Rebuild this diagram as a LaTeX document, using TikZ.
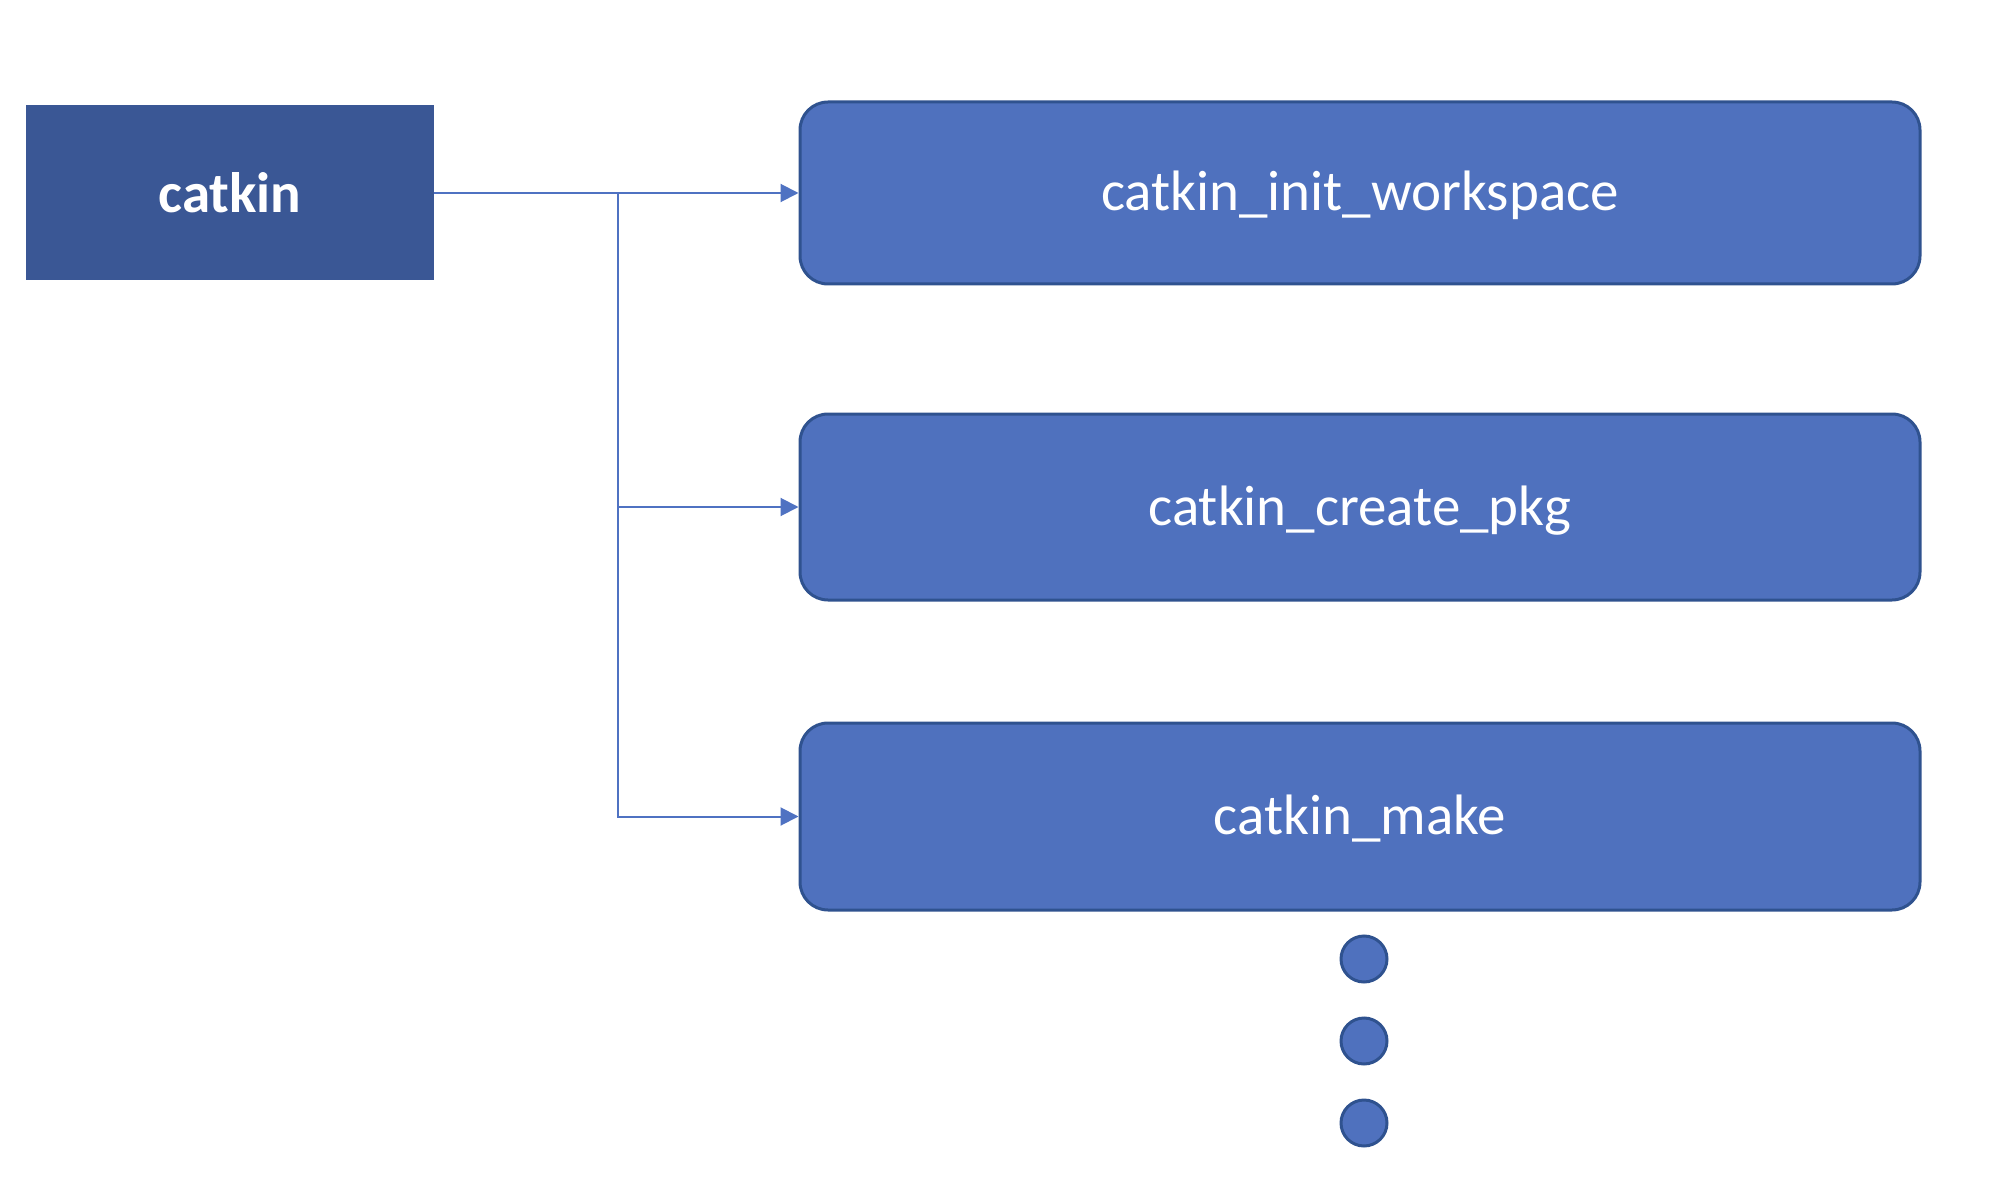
\documentclass[tikz,border=0pt]{standalone}
\usepackage{fontspec}
\setmainfont{Carlito}
\usetikzlibrary{arrows.meta}
\definecolor{boxfill}{HTML}{4F71BE}
\definecolor{boxline}{HTML}{2F528F}
\definecolor{darkfill}{HTML}{3A5795}
\definecolor{linkcol}{HTML}{4F72C2}
\begin{document}
\begin{tikzpicture}[x=1pt,y=-1pt,
  rootbox/.style={fill=darkfill,draw=none,minimum width=408pt,minimum height=175pt,inner sep=0pt,
    text=white,font=\fontsize{57}{68}\selectfont\bfseries},
  cmdbox/.style={fill=boxfill,draw=boxline,line width=3pt,rounded corners=28pt,minimum width=1120pt,
    minimum height=182pt,inner sep=0pt,text=white,text height=48pt,text depth=12pt,
    font=\fontsize{57}{68}\selectfont},
  dotc/.style={circle,fill=boxfill,draw=boxline,line width=3pt,minimum size=46pt,inner sep=0pt},
  link/.style={draw=linkcol,line width=2pt},
  arr/.style={link,-{Triangle[length=18pt,width=18pt]}}]
\useasboundingbox (0,0) rectangle (2014,1182);
\node[rootbox] (root) at (230,192.5) {catkin};
\node[cmdbox] (b1) at (1360,193) {catkin\_init\_workspace};
\node[cmdbox,minimum height=186pt] (b2) at (1360,507) {catkin\_create\_pkg};
\node[cmdbox,minimum height=187pt] (b3) at (1360,816.5) {catkin\_make};
\node[dotc] (d1) at (1364,959) {};
\node[dotc] (d2) at (1364,1041) {};
\node[dotc] (d3) at (1364,1123) {};
\coordinate (j1) at (618,193);
\draw[arr] (root.east |- b1.west) -- (b1.west);
\draw[arr] (j1) |- (b2.west);
\draw[arr] (j1) |- (b3.west);
\end{tikzpicture}
\end{document}
